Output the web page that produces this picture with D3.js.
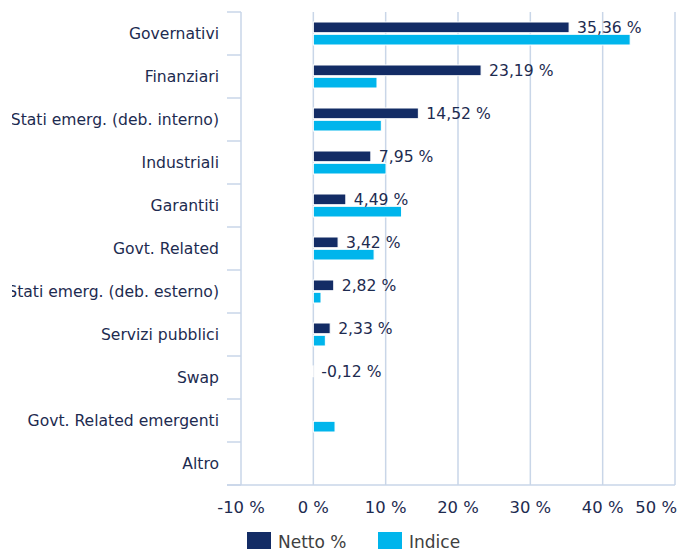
<!DOCTYPE html>
<html>
<head>
<meta charset="utf-8">
<script src="https://cdn.jsdelivr.net/npm/d3@7"></script>
<style>
  html, body { margin: 0; padding: 0; background: #fff; }
  svg { display: block; font-family: Verdana, "DejaVu Sans", sans-serif; }
</style>
</head>
<body>
<svg id="chart" width="691" height="554"></svg>
<script>
// Sector allocation: fund (Netto %) vs benchmark (Indice)
const categories = [
  "Governativi", "Finanziari", "Stati emerg. (deb. interno)", "Industriali",
  "Garantiti", "Govt. Related", "Stati emerg. (deb. esterno)", "Servizi pubblici",
  "Swap", "Govt. Related emergenti", "Altro"
];
const netto  = [35.36, 23.19, 14.52, 7.95, 4.49, 3.42, 2.82, 2.33, -0.12, null, null];
const indice = [43.8, 8.8, 9.4, 10.05, 12.2, 8.4, 1.06, 1.66, null, 3.0, null];
const xTicks = [-10, 0, 10, 20, 30, 40, 50];
const seriesNames = ["Netto %", "Indice"];

const colors = { "Netto %": "#132c65", "Indice": "#00b5ec" };
const gridColor = "#c9d6e8";
const textColor = "#1d2b50";

const svg = d3.select("#chart");
const m = { left: 241, right: 675, top: 12, bottom: 485 };

const x = d3.scaleLinear().domain([-10, 50]).range([m.left, m.right]);
const y = d3.scaleBand().domain(categories).range([m.top, m.bottom]);
const ySub = d3.scaleBand().domain(seriesNames).range([10, 33]).paddingInner(0.13);

const itLocale = d3.formatLocale({ decimal: ",", thousands: ".", grouping: [3], currency: ["", " €"], minus: "-" });
const fmt2 = itLocale.format(".2f");

// Vertical gridlines
svg.append("g").selectAll("line").data(xTicks).join("line")
  .attr("x1", d => x(d)).attr("x2", d => x(d))
  .attr("y1", m.top).attr("y2", m.bottom)
  .attr("stroke", gridColor).attr("stroke-width", 1.5);

// Category separators on the left axis
const bounds = categories.map(c => y(c)).concat([m.bottom]);
svg.append("g").selectAll("line").data(bounds).join("line")
  .attr("x1", m.left - 14).attr("x2", m.left)
  .attr("y1", d => d).attr("y2", d => d)
  .attr("stroke", gridColor).attr("stroke-width", 1.5);
// Bottom baseline
svg.append("line")
  .attr("x1", m.left - 14).attr("x2", m.right)
  .attr("y1", m.bottom).attr("y2", m.bottom)
  .attr("stroke", gridColor).attr("stroke-width", 1.5);

// Category labels (clipped at the left edge)
svg.append("clipPath").attr("id", "labelClip")
  .append("rect").attr("x", 12).attr("y", 0).attr("width", 230).attr("height", 554);
svg.append("g").attr("clip-path", "url(#labelClip)")
  .selectAll("text").data(categories).join("text")
  .attr("x", 219)
  .attr("y", d => y(d) + y.bandwidth() / 2)
  .attr("text-anchor", "end").attr("dominant-baseline", "central")
  .attr("font-size", 15.6).attr("fill", textColor)
  .text(d => d);

// Bars
const rows = categories.map((c, i) => ({ cat: c, "Netto %": netto[i], "Indice": indice[i] }));
const groups = svg.append("g").selectAll("g").data(rows).join("g")
  .attr("transform", d => `translate(0,${y(d.cat)})`);

groups.selectAll("rect")
  .data(d => seriesNames.filter(s => d[s] != null).map(s => ({ key: s, value: d[s] })))
  .join("rect")
  .attr("x", d => x(Math.min(0, d.value)))
  .attr("width", d => Math.abs(x(d.value) - x(0)))
  .attr("y", d => ySub(d.key))
  .attr("height", ySub.bandwidth())
  .attr("fill", d => colors[d.key])
  .attr("stroke", "#fff").attr("stroke-width", 1);

// Value labels for Netto %
groups.filter(d => d["Netto %"] != null).append("text")
  .attr("x", d => x(Math.max(0, d["Netto %"])) + 8)
  .attr("y", ySub("Netto %") + ySub.bandwidth() / 2 + 1)
  .attr("dominant-baseline", "central")
  .attr("font-size", 15.6).attr("fill", textColor)
  .text(d => fmt2(d["Netto %"]) + " %");

// X tick labels (the last one is kept inside the frame)
svg.append("g").selectAll("text").data(xTicks).join("text")
  .attr("x", (d, i) => i === xTicks.length - 1 ? x(d) + 2 : x(d))
  .attr("y", 507)
  .attr("text-anchor", (d, i) => i === xTicks.length - 1 ? "end" : "middle")
  .attr("dominant-baseline", "central")
  .attr("font-size", 16.4).attr("fill", textColor)
  .text(d => d + " %");

// Legend
const legendX = [247, 378];
const legend = svg.append("g").selectAll("g").data(seriesNames).join("g")
  .attr("transform", (d, i) => `translate(${legendX[i]},532)`);
legend.append("rect")
  .attr("width", 24).attr("height", 17)
  .attr("fill", d => colors[d]);
legend.append("text")
  .attr("x", 31).attr("y", 10)
  .attr("dominant-baseline", "central")
  .attr("font-size", 17).attr("fill", "#404040")
  .text(d => d);
</script>
</body>
</html>
